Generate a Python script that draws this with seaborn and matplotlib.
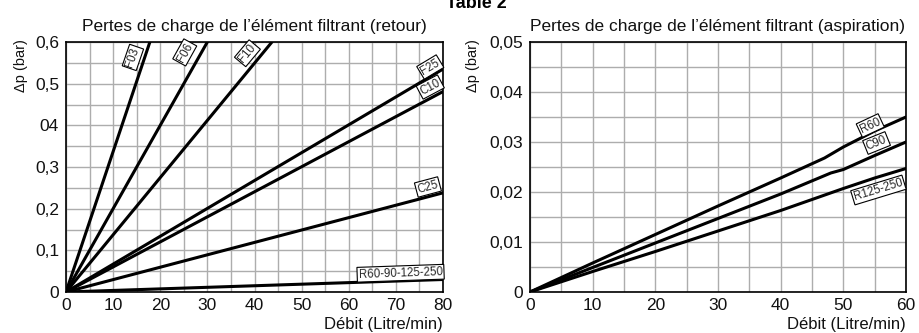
import matplotlib
matplotlib.use("Agg")
import matplotlib.pyplot as plt
import seaborn as sns
import pandas as pd
from matplotlib.ticker import MultipleLocator, FixedLocator, FixedFormatter

sns.set_theme(style="white")
plt.rcParams['font.family'] = ['Liberation Sans', 'DejaVu Sans']

# ---------------- data: left panel (retour) ----------------
retour_names = ["F03", "F06", "F10", "F25", "C10", "C25", "R60-90-125-250"]
retour_x = {
    "F03": [0, 17.8], "F06": [0, 30.0], "F10": [0, 43.7],
    "F25": [0, 80], "C10": [0, 80], "C25": [0, 80], "R60-90-125-250": [0, 80],
}
retour_y = {
    "F03": [0, 0.6], "F06": [0, 0.6], "F10": [0, 0.6],
    "F25": [0, 0.535], "C10": [0, 0.481], "C25": [0, 0.238], "R60-90-125-250": [0, 0.030],
}
retour_xticks = [0, 10, 20, 30, 40, 50, 60, 70, 80]
retour_yticks = [0, 0.1, 0.2, 0.3, 0.4, 0.5, 0.6]
retour_ylabels = ["0", "0,1", "0,2", "0,3", "04", "0,5", "0,6"]

# ---------------- data: right panel (aspiration) ----------------
aspi_names = ["R60", "C90", "R125-250"]
aspi_x = {
    "R60": [0, 10, 20, 30, 40, 47, 50, 55, 60],
    "C90": [0, 10, 20, 30, 40, 48, 50, 55, 60],
    "R125-250": [0, 10, 20, 30, 40, 50, 55, 60],
}
aspi_y = {
    "R60": [0, 0.0058, 0.0115, 0.0172, 0.0228, 0.0268, 0.0290, 0.0322, 0.0350],
    "C90": [0, 0.0049, 0.0098, 0.0147, 0.0196, 0.0238, 0.0245, 0.0273, 0.0300],
    "R125-250": [0, 0.0041, 0.0081, 0.0122, 0.0163, 0.0207, 0.0228, 0.0247],
}
aspi_xticks = [0, 10, 20, 30, 40, 50, 60]
aspi_yticks = [0, 0.01, 0.02, 0.03, 0.04, 0.05]
aspi_ylabels = ["0", "0,01", "0,02", "0,03", "0,04", "0,05"]

titles = ["Pertes de charge de l\u2019\u00e9l\u00e9ment filtrant (retour)",
          "Pertes de charge de l\u2019\u00e9l\u00e9ment filtrant (aspiration)"]
xlabel = "D\u00e9bit (Litre/min)"
ylabel = "\u0394p (bar)"
header = "Table 2"


def long_df(names, xs, ys):
    rows = []
    for n in names:
        for x, y in zip(xs[n], ys[n]):
            rows.append({"serie": n, "x": x, "y": y})
    return pd.DataFrame(rows)


df_r = long_df(retour_names, retour_x, retour_y)
df_a = long_df(aspi_names, aspi_x, aspi_y)

fig = plt.figure(figsize=(9.2, 3.33), dpi=100)
ax1 = fig.add_axes([66 / 920, 41 / 333, 377 / 920, 250 / 333])
ax2 = fig.add_axes([530 / 920, 41 / 333, 376 / 920, 250 / 333])

box = dict(boxstyle="square,pad=0.12", fc="white", ec="black", lw=0.8)


def style_axis(ax, xmax, ymax, xstep, ystep, xticks, yticks, ylabels, title):
    ax.set_xlim(0, xmax)
    ax.set_ylim(0, ymax)
    ax.xaxis.set_major_locator(FixedLocator(xticks))
    ax.xaxis.set_minor_locator(MultipleLocator(xstep))
    ax.yaxis.set_major_locator(FixedLocator(yticks))
    ax.yaxis.set_major_formatter(FixedFormatter(ylabels))
    ax.yaxis.set_minor_locator(MultipleLocator(ystep))
    ax.grid(True, which="both", color="#adadad", lw=1.0)
    ax.set_axisbelow(True)
    for s in ax.spines.values():
        s.set_color("black")
        s.set_linewidth(1.2)
        s.set_visible(True)
    ax.tick_params(which="both", direction="out", length=4, width=0.9,
                   color="#555555", labelsize=12.5, pad=1, labelcolor="#111111")
    ax.tick_params(axis="x", which="both", length=3)
    ax.set_xlabel("")
    ax.set_ylabel("")
    ax.set_title(title, fontsize=12.5, pad=8, color="#111111")


sns.lineplot(data=df_r, x="x", y="y", hue="serie", units="serie", estimator=None,
             sort=False, palette=["black"] * len(retour_names), lw=2.2, ax=ax1,
             legend=False)
sns.lineplot(data=df_a, x="x", y="y", hue="serie", units="serie", estimator=None,
             sort=False, palette=["black"] * len(aspi_names), lw=2.2, ax=ax2,
             legend=False)

style_axis(ax1, 80, 0.6, 5, 0.05, retour_xticks, retour_yticks, retour_ylabels, titles[0])
style_axis(ax2, 60, 0.05, 5, 0.005, aspi_xticks, aspi_yticks, aspi_ylabels, titles[1])

# line labels (left)
lab_r = {
    "F03": (14.2, 0.563, 71), "F06": (25.2, 0.575, 61), "F10": (38.5, 0.573, 50),
    "F25": (77.3, 0.540, 31), "C10": (77.3, 0.492, 28), "C25": (76.8, 0.252, 15),
    "R60-90-125-250": (71.0, 0.045, 2),
}
for n in retour_names:
    x, y, r = lab_r[n]
    ax1.text(x, y, n, fontsize=8.3, rotation=r, ha="center", va="center",
             rotation_mode="anchor", bbox=box, zorder=5)

lab_a = {
    "R60": (54.3, 0.0333, 25), "C90": (55.3, 0.0298, 22), "R125-250": (55.6, 0.0204, 17),
}
for n in aspi_names:
    x, y, r = lab_a[n]
    ax2.text(x, y, n, fontsize=8.3, rotation=r, ha="center", va="center",
             rotation_mode="anchor", bbox=box, zorder=5)

# axis labels
for yx in (21, 473):
    fig.text(yx / 920, 1 - 66 / 333, ylabel, rotation=90, ha="center", va="center",
             fontsize=10.5, color="#111111")
for xr in (443, 906):
    fig.text(xr / 920, 1 / 333, xlabel, ha="right", va="bottom", fontsize=12,
             color="#111111")
fig.text(476 / 920, 1 - 4 / 333, header, ha="center", va="center", fontsize=13,
         fontweight="bold", color="black")

fig.savefig("out.png", dpi=100)
